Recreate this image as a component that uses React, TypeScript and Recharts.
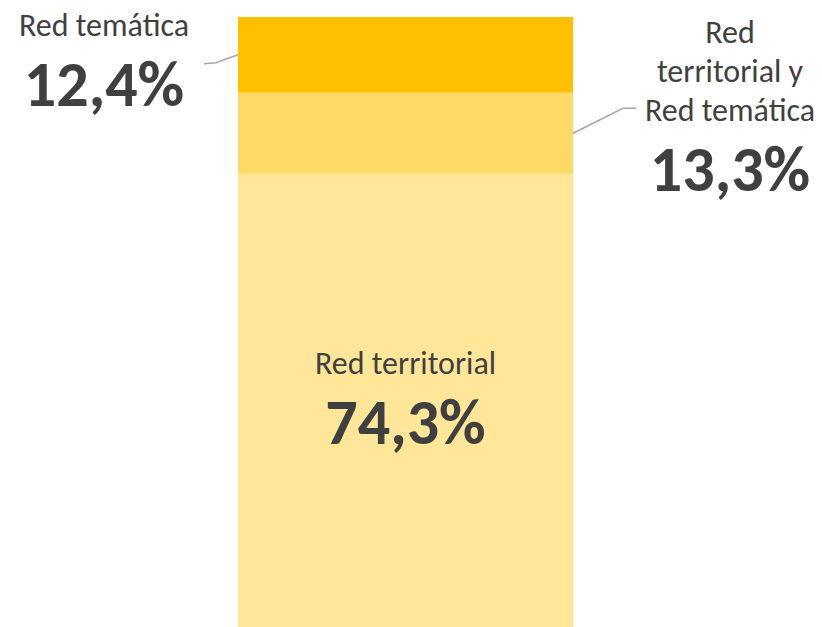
import React from "react";
import { BarChart, Bar, XAxis, YAxis, LabelList } from "recharts";

const categories = ["Red"];
const territorial = [74.3];
const ambas = [13.3];
const tematica = [12.4];

const data = categories.map((name, i) => ({
  name,
  territorial: territorial[i],
  ambas: ambas[i],
  tematica: tematica[i],
}));

const fmt = (v: number) => v.toFixed(1).replace(".", ",") + "%";
const FONT = "Carlito, Calibri, 'Open Sans', sans-serif";
const TXT = "#404040";

const BottomLabel = (props: any) => {
  const { x, y, width, height, value } = props;
  const cx = x + width / 2;
  const cy = y + height / 2;
  return (
    <g fontFamily={FONT} fill={TXT} textAnchor="middle">
      <text x={cx} y={cy - 26} fontSize={32}>Red territorial</text>
      <text x={cx} y={cy + 44} fontSize={64} fontWeight="bold">{fmt(value)}</text>
    </g>
  );
};

const TopLabel = (props: any) => {
  const { x, y, height, value } = props;
  const ly = y + height / 2;
  return (
    <g fontFamily={FONT} fill={TXT} textAnchor="middle">
      <polyline
        points={`${x - 34},${ly + 9} ${x - 22},${ly + 8} ${x},${ly}`}
        fill="none"
        stroke="#a6a6a6"
        strokeWidth={1.5}
      />
      <text x={104} y={36} fontSize={32}>Red temática</text>
      <text x={104} y={106} fontSize={64} fontWeight="bold">{fmt(value)}</text>
    </g>
  );
};

const MidLabel = (props: any) => {
  const { x, y, width, height, value } = props;
  const rx = x + width;
  const ly = y + height / 2;
  return (
    <g fontFamily={FONT} fill={TXT} textAnchor="middle">
      <polyline
        points={`${rx},${ly} ${rx + 50},${ly - 25} ${rx + 63},${ly - 25}`}
        fill="none"
        stroke="#a6a6a6"
        strokeWidth={1.5}
      />
      <text x={730} y={43} fontSize={32}>Red</text>
      <text x={730} y={82} fontSize={32}>territorial y</text>
      <text x={730} y={121} fontSize={32}>Red temática</text>
      <text x={730} y={191} fontSize={64} fontWeight="bold">{fmt(value)}</text>
    </g>
  );
};

export default function App() {
  return (
    <div style={{ position: "absolute", left: 0, top: 0, width: 822, height: 627, background: "#fff" }}>
      <BarChart
        width={822}
        height={627}
        data={data}
        margin={{ top: 17, right: 249, left: 238, bottom: 0 }}
        barCategoryGap={0}
      >
        <XAxis dataKey="name" hide />
        <YAxis hide domain={[0, 100]} />
        <Bar dataKey="territorial" stackId="a" fill="#FFE699" isAnimationActive={false}>
          <LabelList dataKey="territorial" content={BottomLabel} />
        </Bar>
        <Bar dataKey="ambas" stackId="a" fill="#FFD966" isAnimationActive={false}>
          <LabelList dataKey="ambas" content={MidLabel} />
        </Bar>
        <Bar dataKey="tematica" stackId="a" fill="#FFC000" isAnimationActive={false}>
          <LabelList dataKey="tematica" content={TopLabel} />
        </Bar>
      </BarChart>
    </div>
  );
}
